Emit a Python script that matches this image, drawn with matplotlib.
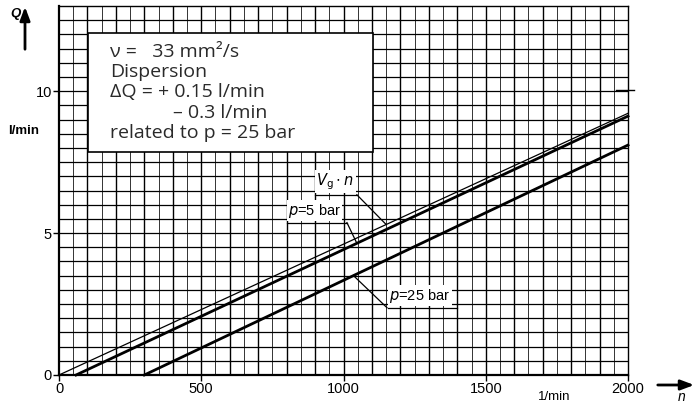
import matplotlib
matplotlib.use("Agg")
import matplotlib.pyplot as plt
import numpy as np
from matplotlib.patches import Rectangle

# ---- data ----
n_vg = [0, 2000]
q_vg = [0.0, 9.22]
n_p5 = [60, 2000]
q_p5 = [0.0, 9.12]
n_p25 = [300, 2000]
q_p25 = [0.0, 8.10]
x_ticks = [0, 500, 1000, 1500, 2000]
x_ticklabels = ["0", "500", "1000", "1500", "2000"]
y_ticks = [0, 5, 10]
y_ticklabels = ["0", "5", "10"]
box_lines = ["\u03bd =   33 mm\u00b2/s", "Dispersion", "\u0394Q = + 0.15 l/min",
             "\u2013 0.3 l/min", "related to p = 25 bar"]

W, H = 697, 405
fig = plt.figure(figsize=(W / 100, H / 100), dpi=100)
L, R, T, B = 59, 628, 6, 375
ax = fig.add_axes([L / W, 1 - B / H, (R - L) / W, (B - T) / H])
ax.set_xlim(0, 2000)
ax.set_ylim(0, 13)

lab_font = ["Liberation Sans Narrow", "Liberation Sans", "DejaVu Sans"]

# grid
for xv in np.arange(50, 2000, 50):
    major = (xv % 100 == 0)
    ax.axvline(xv, color="black", lw=1.0 if major else 0.7, alpha=1 if major else 0.8, zorder=1)
for yv in np.arange(0.5, 13, 0.5):
    ax.axhline(yv, color="black", lw=0.9, zorder=1)
for s in ax.spines.values():
    s.set_linewidth(1.0)
ax.spines["left"].set_linewidth(1.6)
ax.spines["bottom"].set_linewidth(1.6)

ax.set_xticks(x_ticks)
ax.set_xticklabels(x_ticklabels, fontfamily=lab_font, fontsize=10.5)
ax.set_yticks(y_ticks)
ax.set_yticklabels(y_ticklabels, fontfamily=lab_font, fontsize=10.5)
ax.tick_params(axis="both", length=4, width=1.0, color="black", pad=1)

# lines
ax.plot(n_vg, q_vg, color="black", lw=0.9, zorder=3, clip_on=False)
ax.plot(n_p5, q_p5, color="black", lw=2.0, zorder=3, clip_on=False)
ax.plot(n_p25, q_p25, color="black", lw=2.0, zorder=3, clip_on=False)


def on_line(nx, ny, n):
    return np.interp(n, nx, ny)


def label(text, tx, ty, ux1, ex, ey, attach_n, lx, ly):
    aq = on_line(lx, ly, attach_n)
    ax.text(tx, ty, text, fontfamily=lab_font, fontsize=10.5, ha="left", va="bottom",
            zorder=5, bbox=dict(facecolor="white", edgecolor="none", pad=1.0))
    ax.plot([tx - 5, ux1], [ey, ey], color="black", lw=0.9, zorder=6)
    ax.plot([ex, attach_n], [ey, aq], color="black", lw=0.9, zorder=6)


label("$V_{\\mathrm{g}}\\cdot n$", 905, 6.45, 1047, 1047, 6.35, 1150, n_vg, q_vg)
label("$p$=5 bar", 805, 5.47, 1012, 1012, 5.37, 1047, n_p5, q_p5)
label("$p$=25 bar", 1160, 2.47, 1399, 1153, 2.37, 1035, n_p25, q_p25)

# text box
ax.add_patch(Rectangle((0.051, 0.604), 0.501, 0.323, transform=ax.transAxes,
                       facecolor="white", edgecolor="black", lw=1.2, zorder=7))
box_font = ["Open Sans", "DejaVu Sans"]
ys = [0.875, 0.821, 0.767, 0.710, 0.656]
xs = [0.0896, 0.0896, 0.0896, 0.200, 0.0896]
for s, xx, yy in zip(box_lines, xs, ys):
    ax.text(xx, yy, s, transform=ax.transAxes, fontfamily=box_font, fontweight="normal",
            fontsize=14, ha="left", va="center", zorder=8, color="#2a2a2a")

# axis labels and arrows
fig.text(10 / W, 1 - 14 / H, "Q", fontfamily=lab_font, fontsize=9.5, fontweight="bold",
         fontstyle="italic", ha="left", va="center")
fig.text(8 / W, 1 - 131 / H, "l/min", fontfamily=lab_font, fontsize=9.5, fontweight="bold",
         ha="left", va="center")
ax.annotate("", xy=(25 / W, 1 - 4 / H), xytext=(25 / W, 1 - 52 / H), xycoords="figure fraction",
            textcoords="figure fraction",
            arrowprops=dict(arrowstyle="-|>,head_length=0.8,head_width=0.3", color="black", lw=2))
ax.annotate("", xy=(697 / W, 1 - 385 / H), xytext=(655 / W, 1 - 385 / H), xycoords="figure fraction",
            textcoords="figure fraction",
            arrowprops=dict(arrowstyle="-|>,head_length=0.8,head_width=0.3", color="black", lw=2))
fig.text(682 / W, 1 - 397 / H, "n", fontfamily=lab_font, fontsize=10, fontstyle="italic",
         ha="center", va="center")
fig.text(554 / W, 1 - 397 / H, "1/min", fontfamily=lab_font, fontsize=9.5, ha="center", va="center")
# small mark at right edge at Q=10
fig.add_artist(plt.Line2D([616 / W, 634 / W], [1 - 90 / H, 1 - 90 / H], color="black", lw=1.0))

fig.savefig("out.png", dpi=100)
